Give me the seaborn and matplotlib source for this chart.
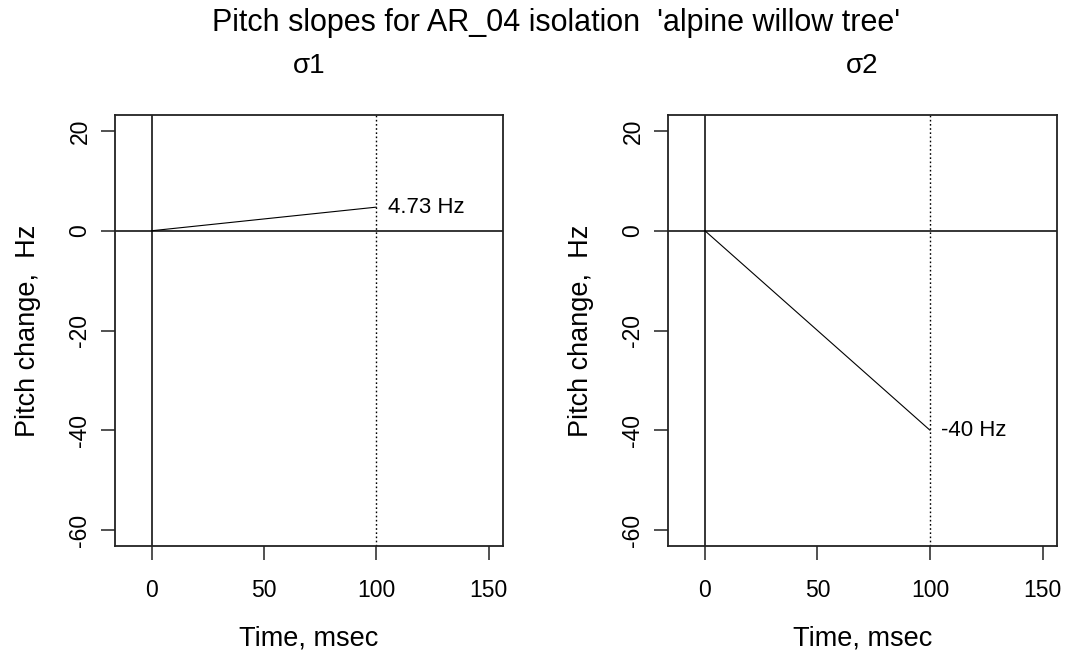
import matplotlib
matplotlib.use("Agg")
import matplotlib.pyplot as plt
import seaborn as sns
import pandas as pd

# Pitch slope end values (Hz) at 100 ms for each sigma
panel_names = ["σ1", "σ2"]
slope_times = [0, 100]
sigma1_pitch = [0, 4.73]
sigma2_pitch = [0, -40]
end_labels = ["4.73 Hz", "-40 Hz"]
x_ticks = [0, 50, 100, 150]
y_ticks = [20, 0, -20, -40, -60]

sns.set_theme(style="ticks")
plt.rcParams["font.family"] = ["Liberation Sans", "DejaVu Sans"]
plt.rcParams["axes.edgecolor"] = "#222222"

fig = plt.figure(figsize=(10.65, 6.54), dpi=100)
W, H = 1065, 654
boxes = [(115, 115, 503, 546), (668, 115, 1057, 546)]

series = [sigma1_pitch, sigma2_pitch]
for i, (name, pitch, lab) in enumerate(zip(panel_names, series, end_labels)):
    x0, y0, x1, y1 = boxes[i]
    ax = fig.add_axes([x0 / W, 1 - y1 / H, (x1 - x0) / W, (y1 - y0) / H])
    df = pd.DataFrame({"t": slope_times, "p": pitch})
    ax.axhline(0, color="black", lw=1.1, zorder=2)
    ax.axvline(0, color="black", lw=1.1, zorder=2)
    ax.axvline(slope_times[-1], color="black", lw=1.0, ls=(0, (1.2, 1.8)), zorder=2)
    sns.lineplot(data=df, x="t", y="p", color="black", lw=0.8, ax=ax, zorder=3)
    ax.text(slope_times[-1] + 5, pitch[-1], lab, ha="left", va="center",
            fontsize=16, color="black")

    ax.set_xlim(-16.4, 156.4)
    ax.set_ylim(-63.2, 23.2)
    ax.set_xticks(x_ticks)
    ax.set_yticks(y_ticks)
    ax.set_yticklabels([str(v) for v in y_ticks], rotation=90, va="center")
    ax.tick_params(axis="both", length=10, width=1.1, color="#222222",
                   labelsize=16.5, labelcolor="black", direction="out")
    ax.tick_params(axis="x", pad=14)
    ax.tick_params(axis="y", pad=7)
    ax.set_xlabel("Time, msec", fontsize=19.5, labelpad=17, color="black")
    ax.set_ylabel("Pitch change,  Hz", fontsize=19.5, labelpad=20, color="black")
    for s in ax.spines.values():
        s.set_visible(True)
        s.set_linewidth(1.3)
    ax.set_title(name, fontsize=20, pad=30, color="black")

fig.text(556 / W, 1 - 23 / H, "Pitch slopes for AR_04 isolation  'alpine willow tree'",
         ha="center", va="center", fontsize=22, color="black")

fig.savefig("out.png", dpi=100, facecolor="white")
